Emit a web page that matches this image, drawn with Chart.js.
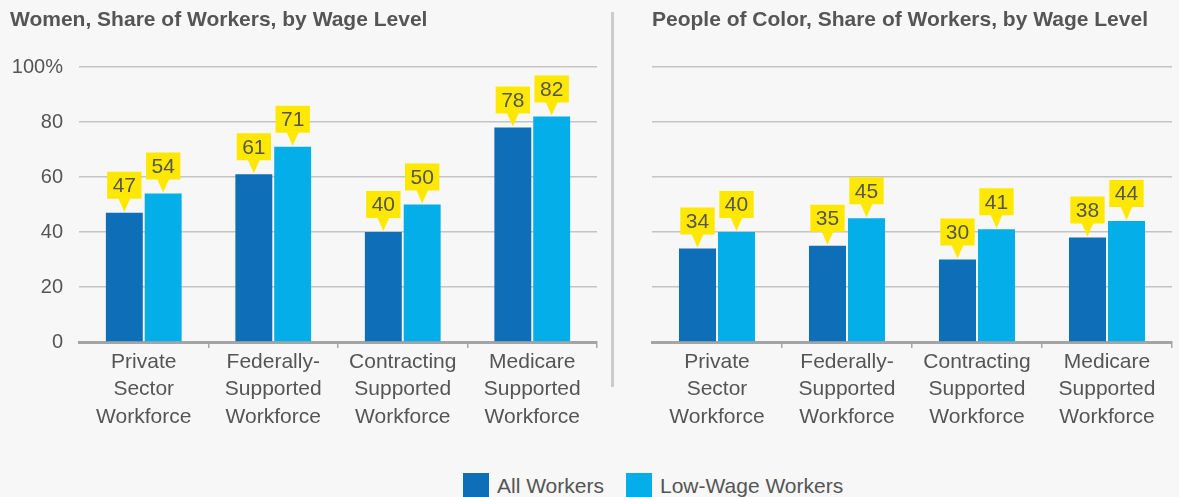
<!DOCTYPE html>
<html>
<head>
<meta charset="utf-8">
<script src="https://cdn.jsdelivr.net/npm/chart.js@4.4.1/dist/chart.umd.min.js"></script>
<style>
    body { margin: 0; background: #f7f7f7; width: 1179px; height: 497px; overflow: hidden; position: relative; font-family: "Liberation Sans", Arial, sans-serif; }
    #leftChart { position: absolute; left: 0; top: 0; }
    #rightChart { position: absolute; left: 612px; top: 0; }
    .divider { position: absolute; left: 611px; top: 12px; width: 3px; height: 375px; background: #cbcbcb; }
    .legend { position: absolute; top: 473px; left: 0; width: 1179px; height: 26px; }
    .legend-item { position: absolute; top: 0; height: 26px; line-height: 26px; font-size: 21px; color: #555; white-space: nowrap; }
    .legend-box { display: inline-block; width: 26px; height: 26px; vertical-align: top; margin-right: 8px; }
</style>
</head>
<body>
<canvas id="leftChart" width="612" height="440"></canvas>
<div class="divider"></div>
<canvas id="rightChart" width="567" height="440"></canvas>
<div class="legend">
    <div class="legend-item" style="left:463px"><span class="legend-box" style="background:#0e6eb8"></span>All Workers</div>
    <div class="legend-item" style="left:626px"><span class="legend-box" style="background:#03aee9"></span>Low-Wage Workers</div>
</div>
<script>
const categories = [
    ['Private', 'Sector', 'Workforce'],
    ['Federally-', 'Supported', 'Workforce'],
    ['Contracting', 'Supported', 'Workforce'],
    ['Medicare', 'Supported', 'Workforce']
];
const seriesNames = ['All Workers', 'Low-Wage Workers'];
const womenAll = [47, 61, 40, 78];
const womenLow = [54, 71, 50, 82];
const colorAll = [34, 35, 30, 38];
const colorLow = [40, 45, 41, 44];
const yTickValues = [0, 20, 40, 60, 80, 100];
const yTickLabels = ['0', '20', '40', '60', '80', '100%'];

const FONT = '"Liberation Sans", Arial, sans-serif';
const TEXT = '#555555';
const DARK_BLUE = '#0e6eb8';
const LIGHT_BLUE = '#03aee9';
const YELLOW = '#ffe800';

// yellow callout above each bar
const calloutPlugin = {
    id: 'callouts',
    afterDatasetsDraw(chart) {
        const ctx = chart.ctx;
        ctx.save();
        ctx.font = '21px ' + FONT;
        ctx.textAlign = 'center';
        ctx.textBaseline = 'middle';
        chart.data.datasets.forEach((ds, i) => {
            const meta = chart.getDatasetMeta(i);
            meta.data.forEach((bar, j) => {
                const txt = String(ds.data[j]);
                const x = bar.x;
                const y = bar.y;
                const w = ctx.measureText(txt).width + 11;
                const h = 27;
                const bottom = y - 14;
                ctx.fillStyle = YELLOW;
                ctx.fillRect(x - w / 2, bottom - h, w, h);
                ctx.beginPath();
                ctx.moveTo(x - 6, bottom - 0.5);
                ctx.lineTo(x + 6, bottom - 0.5);
                ctx.lineTo(x, y - 1);
                ctx.closePath();
                ctx.fill();
                ctx.fillStyle = TEXT;
                ctx.fillText(txt, x, bottom - h / 2 + 1);
            });
        });
        ctx.restore();
    }
};

function makeChart(id, title, allData, lowData, showYLabels, padding) {
    const el = document.getElementById(id);
    return new Chart(el, {
        type: 'bar',
        data: {
            labels: categories,
            datasets: [
                { label: seriesNames[0], data: allData, backgroundColor: DARK_BLUE },
                { label: seriesNames[1], data: lowData, backgroundColor: LIGHT_BLUE }
            ]
        },
        options: {
            responsive: false,
            animation: false,
            layout: { padding: padding },
            categoryPercentage: 0.6,
            barPercentage: 0.95,
            plugins: {
                legend: { display: false },
                tooltip: { enabled: false },
                title: {
                    display: true,
                    text: title,
                    align: 'start',
                    color: TEXT,
                    font: { family: FONT, size: 21, weight: 'bold' },
                    padding: { top: 8, bottom: 33.8 }
                }
            },
            scales: {
                x: {
                    afterFit: function(scale) { scale.height = 98; },
                    grid: {
                        offset: true,
                        drawOnChartArea: false,
                        drawTicks: true,
                        tickLength: 6,
                        lineWidth: 1.5,
                        color: function(c) {
                            return (c.index === 0 || c.index === categories.length) ? 'rgba(0,0,0,0)' : '#a8a8a8';
                        }
                    },
                    border: { display: true, color: '#a4a4a4', width: 3 },
                    ticks: {
                        color: TEXT,
                        padding: 1,
                        maxRotation: 0,
                        autoSkip: false,
                        font: { family: FONT, size: 21, lineHeight: 1.29 }
                    }
                },
                y: {
                    min: 0,
                    max: 100,
                    afterFit: function(scale) { scale.width = showYLabels ? 69 : 0; },
                    afterBuildTicks: function(scale) {
                        scale.ticks = yTickValues.map(v => ({ value: v }));
                    },
                    border: { display: false },
                    grid: { color: '#c4c4c4', lineWidth: 1.5, drawTicks: false },
                    ticks: {
                        display: showYLabels,
                        color: TEXT,
                        padding: 16,
                        font: { family: FONT, size: 20 },
                        callback: function(value) {
                            const k = yTickValues.indexOf(value);
                            return k >= 0 ? yTickLabels[k] : '';
                        }
                    }
                }
            }
        },
        plugins: [calloutPlugin]
    });
}

makeChart('leftChart', 'Women, Share of Workers, by Wage Level', womenAll, womenLow, true,
    { left: 10, right: 15, top: 0, bottom: 0 });
makeChart('rightChart', 'People of Color, Share of Workers, by Wage Level', colorAll, colorLow, false,
    { left: 40, right: 7, top: 0, bottom: 0 });
</script>
</body>
</html>
